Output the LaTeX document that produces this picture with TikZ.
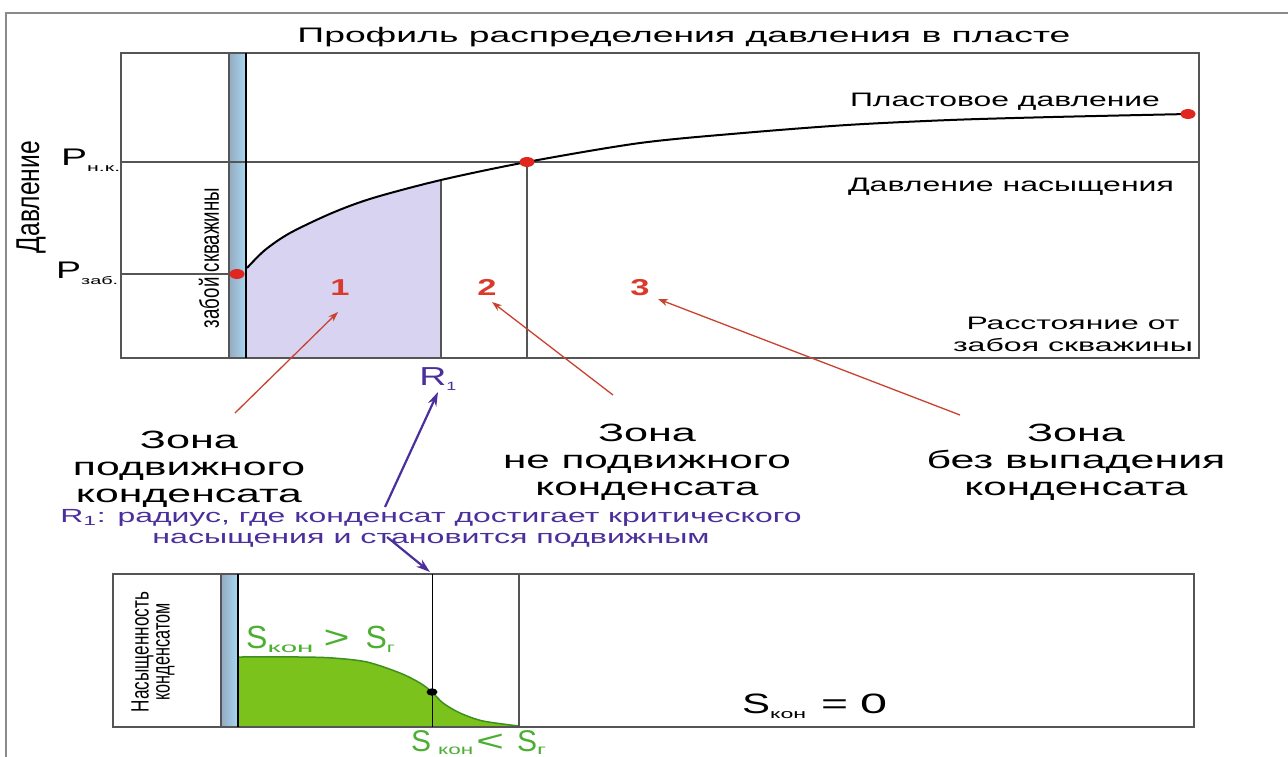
\documentclass[tikz,border=0pt]{standalone}
\usepackage{fontspec}
\setmainfont{Liberation Sans}
\usepackage{graphicx}
\usepackage{tikz}
\usetikzlibrary{arrows.meta}
\definecolor{frame}{HTML}{8A8A8A}
\definecolor{axis}{HTML}{555555}
\definecolor{lav}{HTML}{D8D3F0}
\definecolor{wellblue}{HTML}{A8D8F2}
\definecolor{wellgray}{HTML}{93AAC0}
\definecolor{dotred}{HTML}{E0261F}
\definecolor{numred}{HTML}{D93A2B}
\definecolor{arrred}{HTML}{C8432F}
\definecolor{violet}{HTML}{4B2F9C}
\definecolor{grfill}{HTML}{7CC21C}
\definecolor{grline}{HTML}{3D8F1E}
\definecolor{grtext}{HTML}{4CAF32}
\newcommand\fitw[2]{\resizebox{#1pt}{\height}{#2}}
\newcommand\fsz[1]{\fontsize{#1}{#1}\selectfont}

\begin{document}
\begin{tikzpicture}[x=1pt,y=-1pt,
  lbl/.style={inner sep=0pt,anchor=base},
  zone/.style={inner sep=0pt,anchor=base,align=center,font=\fontsize{25}{27}\selectfont},
  rot/.style={inner sep=0pt,rotate=90},
  ln/.style={draw=axis,line width=1.1pt},
  well/.style={left color=wellgray,right color=wellblue},
  redarr/.style={-{Stealth[length=10pt,width=7pt]},draw=arrred,line width=1.3pt},
  viarr/.style={-{Stealth[length=14pt,width=9pt]},draw=violet,line width=2.2pt}]
\useasboundingbox (0,0) rectangle (1288,756);
\fill[white] (0,0) rectangle (1288,756);
\draw[frame,line width=1.5pt] (6,770) -- (6,13) -- (1300,13);

% pressure profile
\begin{scope}
\clip (246,53) rectangle (441,358);
\fill[lav] (246,358) -- (247,268) -- plot[smooth] coordinates {(247,268) (265,250) (290,233) (332,213) (373,198) (441,180) (527,162) (640,143) (743,133) (847,125) (950,120) (1053,117) (1188,114)} -- (1188,358) -- cycle;
\end{scope}
\fill[well] (229,53) rectangle (246,358);
\draw[ln] (121,53) rectangle (1199,358);
\draw[ln] (121,162) -- (1199,162);
\draw[ln] (121,274) -- (229,274);
\draw[ln] (229,53) -- (229,358);
\draw[black,line width=1.4pt] (246,53) -- (246,358);
\draw[ln] (441,180) -- (441,358);
\draw[ln] (527,162) -- (527,358);
\draw[black,line width=2pt] plot[smooth] coordinates {(247,268) (265,250) (290,233) (332,213) (373,198) (441,180) (527,162) (640,143) (743,133) (847,125) (950,120) (1053,117) (1188,114)};
\fill[dotred] (237,274) ellipse [x radius=7.5,y radius=5];
\fill[dotred] (527,162) ellipse [x radius=7.5,y radius=5];
\fill[dotred] (1188,114) ellipse [x radius=7.5,y radius=5];

\node[lbl,font=\fsz{21}] (title) at (684,42) {\fitw{773}{Профиль распределения давления в пласте}};
\node[lbl,font=\fsz{19.5}] (plast) at (1005,106) {\fitw{310}{Пластовое давление}};
\node[lbl,font=\fsz{19.5}] (nas) at (1011,191) {\fitw{326}{Давление насыщения}};
\node[zone,font=\fontsize{18}{22}\selectfont] (dist) at (1073,351) {\fitw{213}{Расстояние от}\\\fitw{240}{забоя скважины}};
\node[rot,font=\fsz{33}] (ylab) at (31,197) {\fitw{112}{Давление}};
\node[rot,font=\fsz{27}] (wellbore) at (209,258) {\fitw{140}{забой скважины}};
\node[lbl,anchor=base west,font=\fsz{24}] (pnk) at (61,165) {\fitw{26}{P}\raisebox{-6pt}{\fsz{11}\fitw{33}{н.к.}}};
\node[lbl,anchor=base west,font=\fsz{24}] (pzab) at (56,278) {\fitw{25}{P}\raisebox{-6pt}{\fsz{11}\fitw{37}{заб.}}};
\node[lbl,font=\fsz{23}\bfseries,text=numred] (n1) at (340,295) {\scalebox{1.5}[1]{1}};
\node[lbl,font=\fsz{23}\bfseries,text=numred] (n2) at (487,295) {\scalebox{1.5}[1]{2}};
\node[lbl,font=\fsz{23}\bfseries,text=numred] (n3) at (640,295) {\scalebox{1.5}[1]{3}};
\node[lbl,font=\fsz{26},text=violet] (rone) at (438,385) {\fitw{27}{R}\raisebox{-5pt}{\fsz{12}\scalebox{1.5}[1]{1}}};

% zone captions
\node[zone] (zoneA) at (189,502) {\fitw{98}{Зона}\\\fitw{232}{подвижного}\\\fitw{226}{конденсата}};
\node[zone] (zoneB) at (647,495) {\fitw{98}{Зона}\\\fitw{288}{не подвижного}\\\fitw{223}{конденсата}};
\node[zone] (zoneC) at (1076,495) {\fitw{98}{Зона}\\\fitw{299}{без выпадения}\\\fitw{223}{конденсата}};
\node[zone,font=\fontsize{19}{21}\selectfont,text=violet] (note) at (431,543) {\fitw{741}{R\textsubscript{1}: радиус, где конденсат достигает критического}\\\fitw{557}{насыщения и становится подвижным}};

\coordinate (tA) at (235,413);
\coordinate (tB) at (613,395);
\coordinate (tC) at (960,415);
\coordinate (va) at (385,507);
\coordinate (vb) at (387,537);
\coordinate (r1top) at (432,574);
\draw[redarr] (tA) -- ([shift={(-2,17)}]n1.base);
\draw[redarr] (tB) -- ([shift={(5,7)}]n2.base);
\draw[redarr] (tC) -- ([shift={(18,4)}]n3.base);
\draw[viarr] (va) -- ([shift={(0,7)}]rone.base);
\draw[viarr] (vb) -- ([shift={(-2,-2)}]r1top);

% saturation profile
\fill[well] (221,574) rectangle (238,727);
\fill[grfill] (238,727) -- (238,657) -- plot[smooth] coordinates {(238,657) (300,657) (333,658) (367,662) (400,673) (420,683) (432,692) (443,703) (460,713) (483,721) (519,726)} -- (519,727) -- cycle;
\draw[grline,line width=1.5pt] plot[smooth] coordinates {(238,657) (300,657) (333,658) (367,662) (400,673) (420,683) (432,692) (443,703) (460,713) (483,721) (519,726)};
\draw[ln] (113,574) rectangle (1194,727);
\draw[ln] (221,574) -- (221,727);
\draw[black,line width=1.3pt] (238,574) -- (238,727);
\draw[black,line width=1pt] (r1top) -- (432,727);
\draw[ln] (519,574) -- (519,727);
\fill[black] (432,692) ellipse [x radius=5.5,y radius=3.7];

\node[rot,align=center,font=\fontsize{25}{21}\selectfont] (sat) at (153,652) {\fitw{120}{Насыщенность}\\\fitw{97}{конденсатом}};
\node[lbl,anchor=base west,font=\fsz{32},text=grtext] (sbig) at (246,648) {S\raisebox{-4pt}{\fsz{14}\fitw{46}{кон}}\hspace{10pt}\fitw{26}{>}\hspace{16pt}S\raisebox{-4pt}{\fsz{14}\fitw{8}{г}}};
\node[lbl,anchor=base west,font=\fsz{30},text=grtext] (ssmall) at (411,751) {S\hspace{7pt}\raisebox{-3pt}{\fsz{14}\fitw{35}{кон}}\hspace{3pt}\fitw{28}{<}\hspace{13pt}S\raisebox{-3pt}{\fsz{14}\fitw{9}{г}}};
\node[lbl,anchor=base west,font=\fsz{28}] (szero) at (742,713) {\fitw{28}{S}\raisebox{-5pt}{\fsz{13}\fitw{36}{кон}}\hspace{15pt}\fitw{27}{=}\hspace{12pt}\fitw{27}{0}};
\end{tikzpicture}
\end{document}
